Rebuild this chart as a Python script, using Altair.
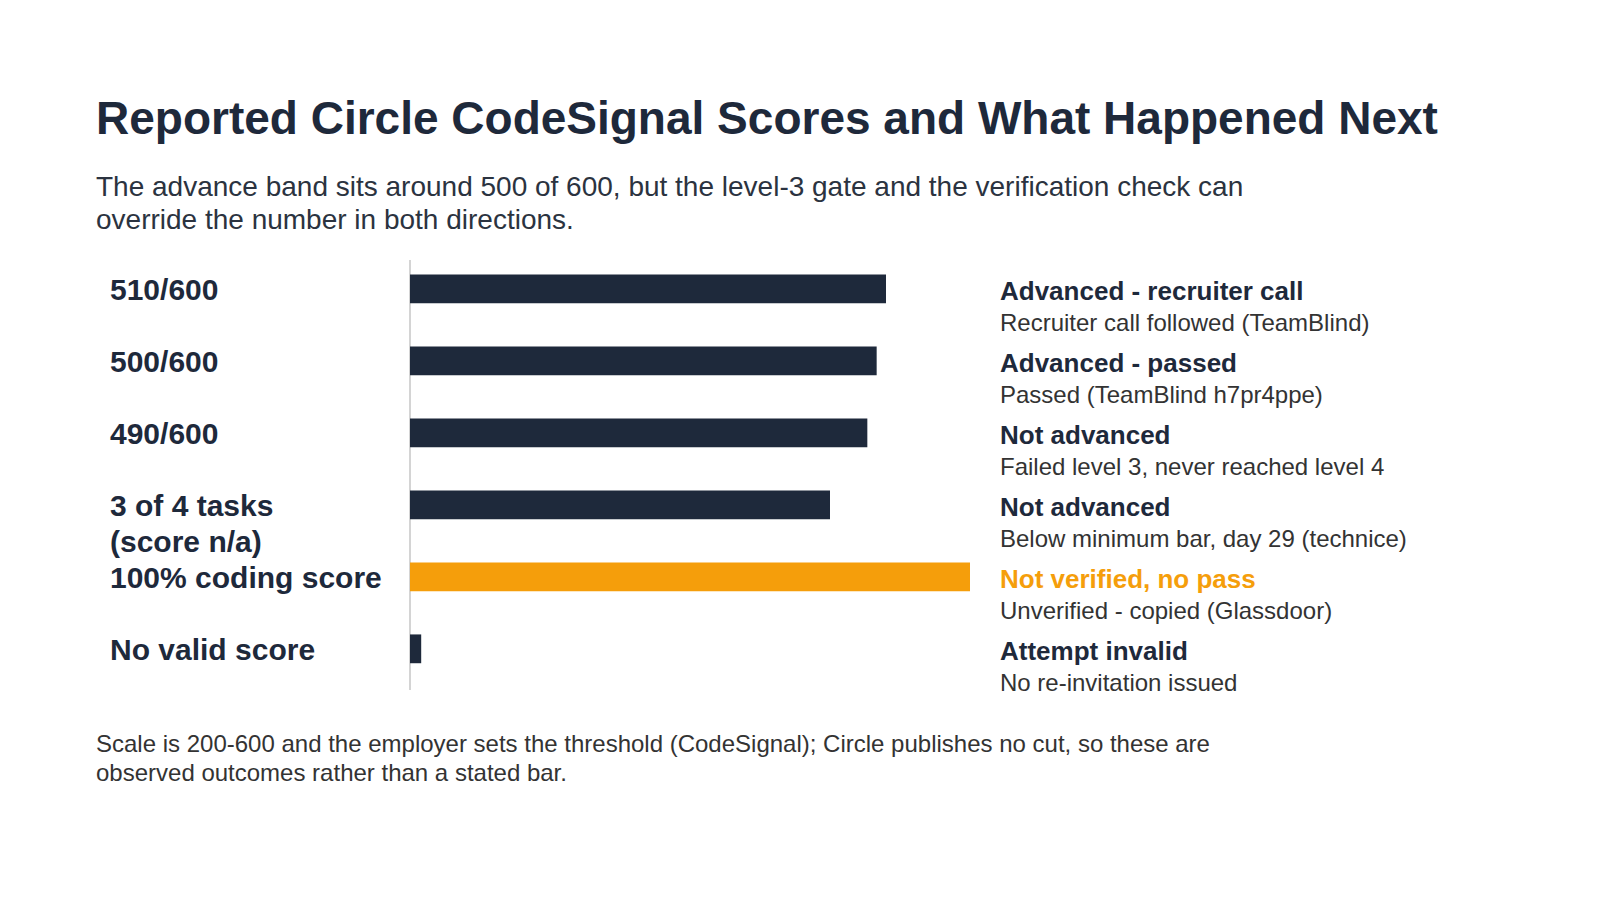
import altair as alt
import pandas as pd

# ---- data ----
categories = ["510/600", "500/600", "490/600", "3 of 4 tasks\n(score n/a)", "100% coding score", "No valid score"]
scores = [510, 500, 490, 450, 600, 12]
highlight = [False, False, False, False, True, False]
outcomes = ["Advanced - recruiter call", "Advanced - passed", "Not advanced", "Not advanced",
            "Not verified, no pass", "Attempt invalid"]
details = ["Recruiter call followed (TeamBlind)", "Passed (TeamBlind h7pr4ppe)",
           "Failed level 3, never reached level 4", "Below minimum bar, day 29 (technice)",
           "Unverified - copied (Glassdoor)", "No re-invitation issued"]

title_text = "Reported Circle CodeSignal Scores and What Happened Next"
subtitle_lines = ["The advance band sits around 500 of 600, but the level-3 gate and the verification check can",
                  "override the number in both directions."]
footer_lines = ["Scale is 200-600 and the employer sets the threshold (CodeSignal); Circle publishes no cut, so these are",
                "observed outcomes rather than a stated bar."]

NAVY = "#1e293b"
ORANGE = "#f59e0b"
FONT = "Liberation Sans"

df = pd.DataFrame({
    "cat": categories,
    "label": [c.split("\n") for c in categories],
    "score": scores,
    "hl": highlight,
    "outcome": outcomes,
    "detail": details,
})

y_enc = alt.Y("cat:N", sort=categories, axis=None,
              scale=alt.Scale(paddingInner=0.6, paddingOuter=0.286, align=0.35))

base = alt.Chart(df)

axis_line = base.mark_rule(color="#d4d4d4", strokeWidth=2).encode(
    x=alt.value(0), y=alt.value(0), y2=alt.value(430)
)

bars = base.mark_bar().encode(
    x=alt.X("score:Q", scale=alt.Scale(domain=[0, 600]), axis=None),
    y=y_enc,
    color=alt.condition(alt.datum.hl, alt.value(ORANGE), alt.value(NAVY)),
)

left_labels = base.mark_text(align="left", baseline="top", dy=-13, font=FONT,
                             fontSize=30, fontWeight="bold", color=NAVY, lineHeight=36).encode(
    x=alt.value(-300), y=y_enc, text="label"
)

outcome_text = base.mark_text(align="left", baseline="middle", dy=3, font=FONT,
                              fontSize=26, fontWeight="bold").encode(
    x=alt.value(590), y=y_enc, text="outcome",
    color=alt.condition(alt.datum.hl, alt.value(ORANGE), alt.value(NAVY)),
)

detail_text = base.mark_text(align="left", baseline="middle", dy=35, font=FONT,
                             fontSize=24, color="#333333").encode(
    x=alt.value(590), y=y_enc, text="detail"
)

footer = alt.Chart(pd.DataFrame({"t": [footer_lines]})).mark_text(
    align="left", baseline="top", font=FONT, fontSize=24, color="#333333", lineHeight=28.6
).encode(x=alt.value(-314), y=alt.value(473), text="t")

chart = alt.layer(axis_line, bars, left_labels, outcome_text, detail_text, footer).properties(
    width=560,
    height=430,
    background="white",
    padding={"left": 402, "top": 252, "right": 620, "bottom": 200},
    autosize=alt.AutoSizeParams(type="none"),
    title=alt.Title(
        text=title_text,
        subtitle=subtitle_lines,
        anchor="start",
        frame="group",
        dx=-314,
        offset=23,
        font=FONT,
        fontSize=46,
        fontWeight="bold",
        color=NAVY,
        subtitleFont=FONT,
        subtitleFontSize=28,
        subtitleColor="#2b3340",
        subtitleLineHeight=33,
        subtitlePadding=30,
    ),
).configure_view(stroke=None, strokeWidth=0)

chart.save("out.html", embed_options={"renderer": "svg", "actions": False})
